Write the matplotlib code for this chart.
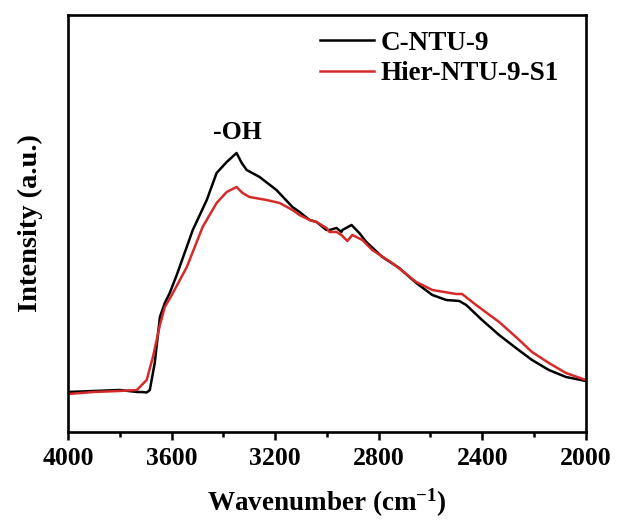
import numpy as np
import matplotlib
matplotlib.use('Agg')
from matplotlib import pyplot as plt
from matplotlib.ticker import MultipleLocator

# FTIR spectra (arbitrary intensity units)
wn_c = [4000, 3900, 3800, 3734, 3715, 3696, 3684, 3665, 3645, 3626, 3607,
        3580, 3518, 3464, 3426, 3387, 3349, 3329, 3310, 3260, 3195, 3133,
        3106, 3067, 3040, 3002, 2990, 2963, 2944, 2940, 2905, 2875, 2848,
        2786, 2721, 2655, 2593, 2539, 2489, 2462, 2401, 2335, 2270, 2208,
        2143, 2077, 2000]
int_c = [23, 24, 25, 23, 23, 22.5, 25, 52, 98, 112, 122,
         140, 185, 215, 242, 253, 262, 252, 245, 238, 225, 208,
         203, 195, 193, 185, 185, 187, 183, 185, 190, 182, 173,
         158, 147, 132, 120, 115, 114, 110, 95, 80, 67, 55,
         45, 38, 34]

wn_h = [4000, 3900, 3800, 3734, 3696, 3672, 3645, 3626, 3599, 3541, 3480,
        3426, 3387, 3349, 3326, 3299, 3233, 3183, 3133, 3106, 3067, 3040,
        3002, 2990, 2963, 2944, 2921, 2902, 2863, 2825, 2748, 2655, 2593,
        2501, 2478, 2424, 2335, 2270, 2208, 2143, 2077, 2000]
int_h = [21, 23, 24, 25, 35, 58, 90, 108, 120, 148, 188,
         212, 223, 228, 222, 218, 215, 212, 205, 200, 195, 193,
         187, 183, 183, 180, 174, 180, 175, 165, 152, 133, 125,
         121, 121, 110, 93, 78, 63, 52, 42, 35]

LABELS = ['C-NTU-9', 'Hier-NTU-9-S1']
COLORS = ['#000000', '#d62a2a']

plt.rcParams['font.family'] = ['Liberation Serif', 'DejaVu Serif']
plt.rcParams['font.weight'] = 'bold'
plt.rcParams['mathtext.default'] = 'regular'

fig = plt.figure(figsize=(6.18, 5.24), dpi=100)
ax = fig.add_axes([0.110, 0.1756, 0.838, 0.7958])

ax.plot(wn_c, int_c, c=COLORS[0], lw=1.8, label=LABELS[0])
ax.plot(wn_h, int_h, c=COLORS[1], lw=1.8, label=LABELS[1])

ax.set_xlim(4000, 2000)
ax.set_ylim(-17, 400)
ax.set_yticks([])
ax.xaxis.set_major_locator(MultipleLocator(400))
ax.xaxis.set_minor_locator(MultipleLocator(200))
ax.tick_params(axis='x', which='major', direction='out', length=6, width=1.8,
               labelsize=18.5, pad=5)
ax.tick_params(axis='x', which='minor', direction='out', length=3.5, width=1.8)
for sp in ax.spines.values():
    sp.set_linewidth(1.9)

ax.set_xlabel('Wavenumber (cm$^{-1}$)', fontsize=19.5, fontweight='bold',
              labelpad=12)
ax.set_ylabel('Intensity (a.u.)', fontsize=20.5, fontweight='bold', labelpad=18)

ax.text(3344, 282, '-OH', fontsize=18.5, fontweight='bold', ha='center',
        va='center')

ax.legend(loc='upper left', frameon=False, handlelength=2.0,
          handletextpad=0.25, labelspacing=0.2, borderpad=0, borderaxespad=0,
          bbox_to_anchor=(0.486, 0.962), prop={'weight': 'bold', 'size': 19.5})

fig.savefig('out.png', dpi=100)
